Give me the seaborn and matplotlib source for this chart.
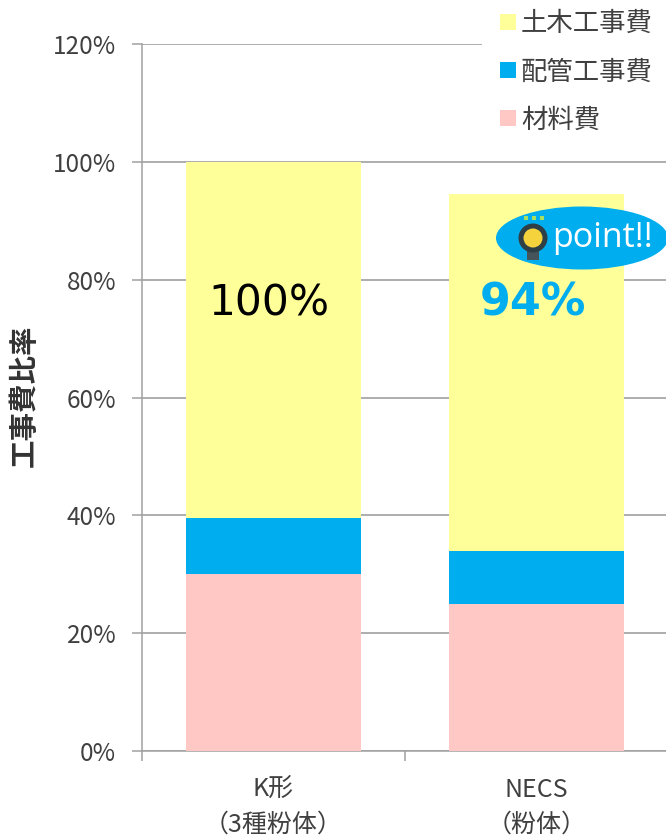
import matplotlib
matplotlib.use("Agg")
import matplotlib.pyplot as plt
from matplotlib.patches import Patch, Ellipse, Circle, Rectangle
from matplotlib.transforms import Affine2D
import seaborn as sns

categories = ["K形\n（3種粉体）", "NECS\n（粉体）"]
material = [30.0, 25.0]
piping = [9.5, 9.0]
civil = [60.5, 60.5]
series_names = ["土木工事費", "配管工事費", "材料費"]
total_labels = ["100%", "94%"]
y_ticks = [0, 20, 40, 60, 80, 100, 120]
y_tick_labels = ["0%", "20%", "40%", "60%", "80%", "100%", "120%"]
y_axis_label = "工事費比率"
callout = "point!!"

PINK = "#ffc8c4"
BLUE = "#00aeef"
YELLOW = "#ffff99"
GRAY = "#a0a0a0"
TEXT = "#404040"

W, H = 666, 840
sns.set_style("white")
plt.rcParams["font.family"] = ["Noto Sans CJK JP", "DejaVu Sans"]
fig = plt.figure(figsize=(W / 100, H / 100), dpi=100)
ax = fig.add_axes([142 / W, 1 - 751 / H, (668 - 142) / W, (751 - 44) / H])

bar_kw = dict(saturation=1, width=0.665, ax=ax, zorder=3, linewidth=0, edgecolor="none")
bottom2 = [a + b for a, b in zip(material, piping)]
sns.barplot(x=categories, y=material, color=PINK, **bar_kw)
sns.barplot(x=categories, y=piping, bottom=material, color=BLUE, **bar_kw)
sns.barplot(x=categories, y=civil, bottom=bottom2, color=YELLOW, **bar_kw)

ax.set_xlim(-0.5, 1.5)
ax.set_ylim(0, 120)
ax.set_yticks(y_ticks)
ax.set_yticklabels(y_tick_labels, fontsize=17.5, color=TEXT)
ax.set_xticks([-0.5, 0.5, 1.5], minor=True)
ax.tick_params(axis="x", which="major", length=0, pad=18.5, labelsize=18, labelcolor=TEXT)
ax.tick_params(axis="x", which="minor", length=7.5, width=1.1, color=GRAY, direction="out", bottom=True)
ax.tick_params(axis="y", length=7.5, width=1.1, color=GRAY, left=True, pad=11)
ax.grid(axis="y", color=GRAY, linewidth=1.2, zorder=0)
ax.set_axisbelow(True)
for side in ("top", "right"):
    ax.spines[side].set_visible(False)
for side in ("left", "bottom"):
    ax.spines[side].set_color(GRAY)
    ax.spines[side].set_linewidth(1.1)
for lab in ax.get_xticklabels():
    lab.set_linespacing(1.45)
ax.set_ylabel("")
fig.text(25 / W, 1 - 396 / H, y_axis_label, rotation=90, ha="center", va="center",
         fontsize=20.5, fontweight="bold", color="#333333")

ax.text(-0.017, 76, total_labels[0], ha="center", va="center", fontsize=30.5,
        color="black", family="DejaVu Sans", zorder=6)
ax.text(0.987, 76, total_labels[1], ha="center", va="center", fontsize=32,
        color=BLUE, fontweight="bold", family="DejaVu Sans", zorder=6)

px = Affine2D().scale(1, -1).translate(0, H)

# white panel behind the legend hides the top gridline, as in the reference
ax.add_patch(Rectangle((482, 0), 190, 145, facecolor="white", edgecolor="none",
                       transform=px, zorder=7, clip_on=False))

handles = [Patch(facecolor=c, edgecolor="none") for c in (YELLOW, BLUE, PINK)]
leg = ax.legend(handles, series_names, loc="upper left",
                bbox_to_anchor=(495 / W, 1 - 5 / H), bbox_transform=fig.transFigure,
                fontsize=19, frameon=False,
                borderaxespad=0, borderpad=0.2, labelspacing=0.8, handlelength=0.58,
                handleheight=0.58, handletextpad=0.2)
for t in leg.get_texts():
    t.set_color(TEXT)
leg.set_zorder(8)

# callout, placed in reference pixel coordinates
fig.add_artist(Ellipse((582, 238), 172, 63, facecolor=BLUE, edgecolor="none", transform=px, zorder=10))
fig.add_artist(Rectangle((527, 250), 12, 10, facecolor="#44545a", edgecolor="none", transform=px, zorder=11))
fig.add_artist(Circle((533, 238), 14.5, facecolor="#2f3f46", edgecolor="none", transform=px, zorder=11))
fig.add_artist(Circle((533, 238), 9.5, facecolor="#f5d33c", edgecolor="none", transform=px, zorder=12))
for dx in (-9, -1, 7):
    fig.add_artist(Rectangle((533 + dx, 216), 4, 4, facecolor="#a8e05f", edgecolor="none", transform=px, zorder=12))
fig.text(552 / W, 1 - 238 / H, callout, ha="left", va="center", fontsize=24.5, color="white",
         family="Open Sans", zorder=13)

fig.savefig("out.png", dpi=100, facecolor="white")
